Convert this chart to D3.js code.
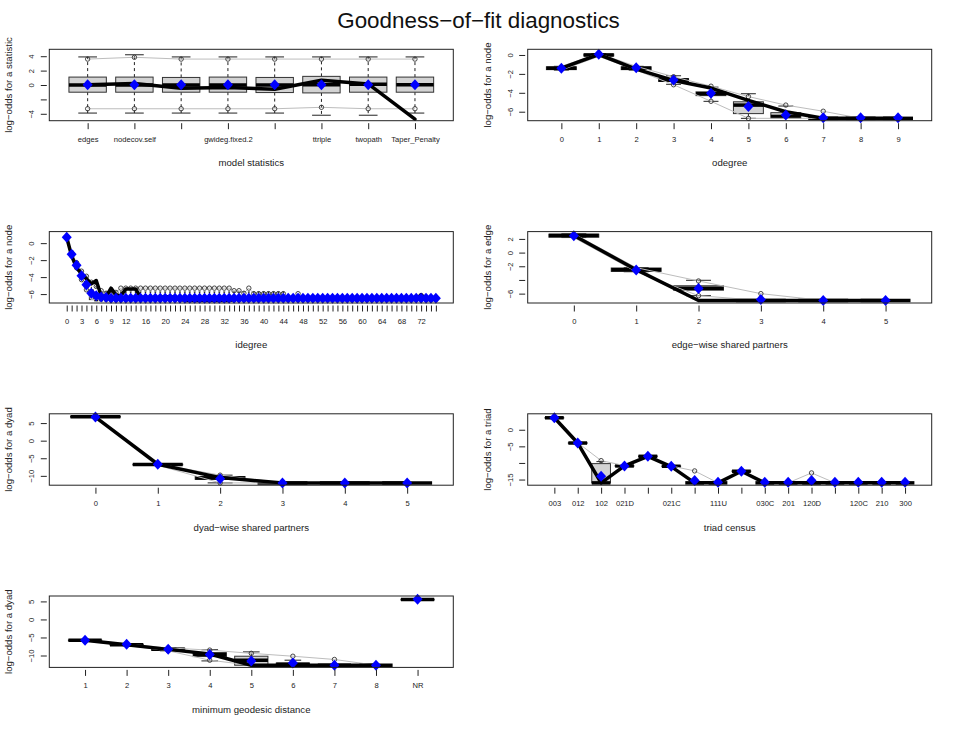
<!DOCTYPE html>
<html lang="en">
<head>
<meta charset="UTF-8">
<title>Goodness-of-fit diagnostics</title>
<script src="https://d3js.org/d3.v7.min.js"></script>
<style>
  body { margin: 0; background: #fff; font-family: "Liberation Sans", Arial, sans-serif; }
</style>
</head>
<body>
<div id="chart"></div>
<script>
// ---- data: boxes are [q1, median, q3, whiskerLow, whiskerHigh] ----

// model statistics
const modelLabels = ["edges", "nodecov.self", "", "gwideg.fixed.2", "", "ttriple", "twopath", "Taper_Penalty"];
const modelBoxes = [
  [-1.0, 0.0, 1.1, -3.9, 3.9], [-1.0, 0.0, 1.1, -3.9, 4.2], [-1.0, 0.0, 1.05, -3.9, 3.9], [-1.0, 0.0, 1.1, -3.9, 3.9],
  [-1.05, 0.0, 1.05, -3.9, 3.9], [-1.1, 0.05, 1.2, -4.2, 3.9], [-1.0, 0.1, 1.1, -4.2, 3.9], [-1.0, 0.05, 1.1, -3.9, 3.9]
];
const modelObs = [0.05, 0.2, -0.45, -0.35, -0.6, 0.65, 0.15, -4.75];
const modelMean = [0.05, 0.05, 0.05, 0.05, 0.05, 0.05, 0.05, 0.05];
const modelHi = [3.6, 3.85, 3.6, 3.6, 3.6, 3.6, 3.6, 3.6];
const modelLo = [-3.3, -3.3, -3.3, -3.3, -3.3, -3.1, -3.3, -3.3];

// odegree
const odegLabels = ["0", "1", "2", "3", "4", "5", "6", "7", "8", "9"];
const odegBoxes = [
  [-1.55, -1.4, -1.25, -1.6, -1.2], [-0.1, 0.0, 0.1, -0.15, 0.15], [-1.55, -1.4, -1.25, -1.6, -1.2],
  [-2.8, -2.65, -2.5, -3.1, -2.2], [-4.3, -4.1, -3.9, -4.9, -3.4], [-6.2, -5.3, -4.95, -6.7, -4.1],
  [-6.7, -6.5, -6.1, -6.7, -5.4], [-6.7, -6.7, -6.7, -6.7, -6.7], [-6.7, -6.7, -6.7, -6.7, -6.7], [-6.7, -6.7, -6.7, -6.7, -6.7]
];
const odegObs = [-1.4, 0.05, -1.5, -2.7, -3.5, -4.8, -6.0, -6.7, -6.7, -6.7];
const odegMean = [-1.4, 0.07, -1.35, -2.65, -4.05, -5.45, -6.35, -6.65, -6.65, -6.65];
const odegHi = [-1.2, 0.15, -1.2, -2.3, -3.3, -4.4, -5.3, -5.95, -6.7, -6.7];
const odegLo = [-1.6, -0.15, -1.6, -3.15, -4.9, -6.7, -6.7, -6.7, -6.7, -6.7];

// idegree
const idegCats = [0, 1, 2, 3, 4, 5, 6, 7, 8, 9, 10, 11, 12, 13, 14, 15, 16, 17, 18, 19, 20, 21, 22, 23, 24, 25, 26, 27, 28, 29,
  30, 31, 32, 33, 34, 35, 36, 37, 38, 39, 40, 41, 42, 43, 44, 45, 46, 47, 48, 49, 50, 51, 52, 53, 54, 55, 56, 57, 58, 59,
  60, 61, 62, 63, 64, 65, 66, 67, 68, 69, 70, 71, 72, 73, 74, 75];
const idegShown = [0, 3, 6, 9, 12, 16, 20, 24, 28, 32, 36, 40, 44, 48, 52, 56, 60, 64, 68, 72];
const idegBoxes = [
  [0.6, 0.7, 0.75, 0.55, 0.8], [-1.4, -1.3, -1.2, -1.5, -1.1], [-2.75, -2.6, -2.45, -2.9, -2.3], [-4.1, -3.85, -3.6, -4.3, -3.3],
  [-5.2, -4.9, -4.5, -5.5, -3.9], [-6.65, -6.0, -5.5, -6.65, -4.6], [-6.65, -6.65, -6.0, -6.65, -5.1],
  [-6.65, -6.65, -6.65, -6.65, -5.75], [-6.65, -6.65, -6.65, -6.65, -5.75], [-6.65, -6.65, -6.65, -6.65, -5.75],
  [-6.65, -6.65, -6.65, -6.65, -5.75], [-6.65, -6.65, -6.65, -6.65, -5.75], [-6.65, -6.65, -6.65, -6.65, -5.75],
  [-6.65, -6.65, -6.65, -6.65, -5.75], [-6.65, -6.65, -6.65, -6.65, -5.75], [-6.65, -6.65, -6.65, -6.65, -5.75],
  [-6.65, -6.65, -6.65, -6.65, -5.75], [-6.65, -6.65, -6.65, -6.65, -5.75], [-6.65, -6.65, -6.65, -6.65, -5.75],
  [-6.65, -6.65, -6.65, -6.65, -5.75], [-6.65, -6.65, -6.65, -6.65, -5.75], [-6.65, -6.65, -6.65, -6.65, -5.75],
  [-6.65, -6.65, -6.65, -6.65, -5.75], [-6.65, -6.65, -6.65, -6.65, -5.75], [-6.65, -6.65, -6.65, -6.65, -5.75],
  [-6.65, -6.65, -6.65, -6.65, -5.75], [-6.65, -6.65, -6.65, -6.65, -5.75], [-6.65, -6.65, -6.65, -6.65, -5.75],
  [-6.65, -6.65, -6.65, -6.65, -5.75], [-6.65, -6.65, -6.65, -6.65, -5.75], [-6.65, -6.65, -6.65, -6.65, -5.75],
  [-6.65, -6.65, -6.65, -6.65, -5.75], [-6.65, -6.65, -6.65, -6.65, -5.75], [-6.65, -6.65, -6.65, -6.65, -5.75],
  [-6.65, -6.65, -6.65, -6.65, -5.75], [-6.65, -6.65, -6.65, -6.65, -5.75], [-6.65, -6.65, -6.65, -6.65, -5.75],
  [-6.65, -6.65, -6.65, -6.65, -5.75], [-6.65, -6.65, -6.65, -6.65, -5.75], [-6.65, -6.65, -6.65, -6.65, -5.75],
  [-6.65, -6.65, -6.65, -6.65, -5.75], [-6.65, -6.65, -6.65, -6.65, -5.75], [-6.65, -6.65, -6.65, -6.65, -5.75],
  [-6.65, -6.65, -6.65, -6.65, -5.75], [-6.65, -6.65, -6.65, -6.65, -5.75], [-6.65, -6.65, -6.65, -6.65, -6.65],
  [-6.65, -6.65, -6.65, -6.65, -6.65], [-6.65, -6.65, -6.65, -6.65, -6.65], [-6.65, -6.65, -6.65, -6.65, -6.65],
  [-6.65, -6.65, -6.65, -6.65, -6.65], [-6.65, -6.65, -6.65, -6.65, -6.65], [-6.65, -6.65, -6.65, -6.65, -6.65],
  [-6.65, -6.65, -6.65, -6.65, -6.65], [-6.65, -6.65, -6.65, -6.65, -6.65], [-6.65, -6.65, -6.65, -6.65, -6.65],
  [-6.65, -6.65, -6.65, -6.65, -6.65], [-6.65, -6.65, -6.65, -6.65, -6.65], [-6.65, -6.65, -6.65, -6.65, -6.65],
  [-6.65, -6.65, -6.65, -6.65, -6.65], [-6.65, -6.65, -6.65, -6.65, -6.65], [-6.65, -6.65, -6.65, -6.65, -6.65],
  [-6.65, -6.65, -6.65, -6.65, -6.65], [-6.65, -6.65, -6.65, -6.65, -6.65], [-6.65, -6.65, -6.65, -6.65, -6.65],
  [-6.65, -6.65, -6.65, -6.65, -6.65], [-6.65, -6.65, -6.65, -6.65, -6.65], [-6.65, -6.65, -6.65, -6.65, -6.65],
  [-6.65, -6.65, -6.65, -6.65, -6.65], [-6.65, -6.65, -6.65, -6.65, -6.65], [-6.65, -6.65, -6.65, -6.65, -6.65],
  [-6.65, -6.65, -6.65, -6.65, -6.65], [-6.65, -6.65, -6.65, -6.65, -6.65], [-6.65, -6.65, -6.65, -6.65, -6.65],
  [-6.65, -6.65, -6.65, -6.65, -6.65], [-6.65, -6.65, -6.65, -6.65, -6.65], [-6.65, -6.65, -6.65, -6.65, -6.65]
];
const idegObs = [0.66, -1.5, -2.9, -3.6, -4.2, -4.8, -4.4, -6.2, -6.3, -5.3, -6.1, -6.2, -5.4, -5.4, -5.4, -6.4,
  -6.4, -6.4, -6.5, -6.4, -6.3, -6.3, -6.4, -6.6, -6.75, -6.75, -6.75, -6.75, -6.75, -6.75, -6.75, -6.75, -6.75, -6.75,
  -6.65, -6.65, -6.65, -6.65, -6.65, -6.65, -6.65, -6.65, -6.65, -6.65, -6.65, -6.65, -6.65, -6.65, -6.65, -6.65,
  -6.65, -6.65, -6.65, -6.65, -6.65, -6.65, -6.65, -6.65, -6.65, -6.65, -6.65, -6.65, -6.65, -6.65, -6.65, -6.65,
  -6.65, -6.65, -6.65, -6.65, -6.65, -6.65, -6.05, -6.65, -6.65, -6.65];
const idegMean = [0.7, -1.3, -2.6, -3.85, -4.9, -5.9, -6.2, -6.35, -6.4, -6.5, -6.5, -6.5, -6.5, -6.5, -6.5, -6.5,
  -6.5, -6.5, -6.5, -6.5, -6.5, -6.5, -6.5, -6.5, -6.5, -6.5, -6.5, -6.5, -6.5, -6.5, -6.5, -6.5, -6.5, -6.5,
  -6.5, -6.5, -6.5, -6.5, -6.5, -6.5, -6.5, -6.5, -6.5, -6.5, -6.5, -6.5, -6.5, -6.5, -6.5, -6.5,
  -6.5, -6.5, -6.5, -6.5, -6.5, -6.5, -6.5, -6.5, -6.5, -6.5, -6.5, -6.5, -6.5, -6.5, -6.5, -6.5,
  -6.5, -6.5, -6.5, -6.5, -6.5, -6.5, -6.5, -6.5, -6.5, -6.5];
const idegHi = [0.8, -1.1, -2.3, -3.3, -3.9, -4.6, -5.1, -5.6, -5.9, -6.0, -5.8, -5.3, -5.3, -5.3, -5.3, -5.3,
  -5.3, -5.3, -5.3, -5.3, -5.3, -5.3, -5.3, -5.3, -5.3, -5.3, -5.3, -5.3, -5.3, -5.3, -5.3, -5.3, -5.3, -5.3,
  -5.6, -5.6, -5.9, -5.3, -5.95, -5.95, -5.95, -5.95, -5.95, -5.95, -5.95, -6.65, -6.65, -5.95, -6.65, -6.65,
  -6.65, -6.65, -6.65, -6.65, -6.65, -6.65, -6.65, -6.65, -6.65, -6.65, -6.65, -6.65, -6.65, -6.65, -6.65, -6.65,
  -6.65, -6.65, -6.65, -6.65, -6.65, -6.65, -6.65, -6.65, -6.65, -6.65];
const idegLo = [0.55, -1.5, -2.9, -4.3, -5.5, -6.65, -6.65, -6.65, -6.65, -6.65, -6.65, -6.65, -6.65, -6.65, -6.65, -6.65,
  -6.65, -6.65, -6.65, -6.65, -6.65, -6.65, -6.65, -6.65, -6.65, -6.65, -6.65, -6.65, -6.65, -6.65, -6.65, -6.65, -6.65, -6.65,
  -6.65, -6.65, -6.65, -6.65, -6.65, -6.65, -6.65, -6.65, -6.65, -6.65, -6.65, -6.65, -6.65, -6.65, -6.65, -6.65,
  -6.65, -6.65, -6.65, -6.65, -6.65, -6.65, -6.65, -6.65, -6.65, -6.65, -6.65, -6.65, -6.65, -6.65, -6.65, -6.65,
  -6.65, -6.65, -6.65, -6.65, -6.65, -6.65, -6.65, -6.65, -6.65, -6.65];

// edge-wise shared partners
const espLabels = ["0", "1", "2", "3", "4", "5"];
const espBoxes = [
  [2.25, 2.5, 2.7, 2.2, 2.75], [-2.75, -2.5, -2.25, -2.8, -2.2], [-5.5, -5.2, -4.85, -6.3, -4.05],
  [-7.0, -7.0, -7.0, -7.0, -7.0], [-7.0, -7.0, -7.0, -7.0, -7.0], [-7.0, -7.0, -7.0, -7.0, -7.0]
];
const espObs = [2.5, -2.5, -7.0, -7.0, -7.0, -7.0];
const espMean = [2.45, -2.55, -5.25, -6.85, -7.0, -7.0];
const espHi = [2.75, -2.2, -4.15, -6.0, -7.0, -7.0];
const espLo = [2.2, -2.8, -6.3, -7.0, -7.0, -7.0];

// dyad-wise shared partners
const dspLabels = ["0", "1", "2", "3", "4", "5"];
const dspBoxes = [
  [6.7, 6.8, 6.9, 6.7, 6.9], [-6.9, -6.8, -6.7, -6.9, -6.7], [-11.0, -10.6, -10.2, -12.0, -9.8],
  [-12.0, -12.0, -12.0, -12.0, -12.0], [-12.0, -12.0, -12.0, -12.0, -12.0], [-12.0, -12.0, -12.0, -12.0, -12.0]
];
const dspObs = [6.7, -6.7, -10.5, -12.0, -12.0, -12.0];
const dspMean = [6.7, -6.7, -10.8, -12.0, -12.0, -12.0];
const dspHi = [6.9, -6.6, -9.8, -12.0, -12.0, -12.0];
const dspLo = [6.6, -7.0, -12.0, -12.0, -12.0, -12.0];

// triad census
const triadLabels = ["003", "012", "102", "021D", "", "021C", "", "111U", "", "030C", "201", "120D", "", "120C", "210", "300"];
const triadBoxes = [
  [3.5, 3.6, 3.7, 3.5, 3.7], [-4.1, -4.0, -3.9, -4.1, -3.9], [-16.0, -16.0, -10.2, -16.0, -9.6],
  [-11.0, -10.9, -10.8, -11.0, -10.8], [-8.1, -8.0, -7.9, -8.1, -7.9], [-11.1, -11.0, -10.9, -11.1, -10.9],
  [-16.0, -16.0, -16.0, -16.0, -16.0], [-16.0, -16.0, -16.0, -16.0, -16.0], [-12.6, -12.5, -12.4, -12.6, -12.4],
  [-16.0, -16.0, -16.0, -16.0, -16.0], [-16.0, -16.0, -16.0, -16.0, -16.0], [-16.0, -16.0, -16.0, -16.0, -16.0],
  [-16.0, -16.0, -16.0, -16.0, -16.0], [-16.0, -16.0, -16.0, -16.0, -16.0], [-16.0, -16.0, -16.0, -16.0, -16.0],
  [-16.0, -16.0, -16.0, -16.0, -16.0]
];
const triadObs = [3.6, -4.0, -16.0, -10.9, -8.0, -11.1, -16.0, -16.0, -12.5, -16.0, -16.0, -16.0, -16.0, -16.0, -16.0, -16.0];
const triadMean = [3.6, -4.0, -14.0, -10.9, -8.0, -11.0, -15.3, -15.8, -12.5, -15.8, -15.8, -15.3, -15.8, -15.8, -15.8, -15.8];
const triadHi = [3.7, -3.9, -9.3, -10.8, -7.9, -10.9, -12.4, -16.0, -12.4, -16.0, -16.0, -13.0, -16.0, -16.0, -16.0, -16.0];
const triadLo = [3.5, -4.1, -16.0, -11.0, -8.1, -11.1, -16.0, -16.0, -12.6, -16.0, -16.0, -16.0, -16.0, -16.0, -16.0, -16.0];

// minimum geodesic distance
const geoLabels = ["1", "2", "3", "4", "5", "6", "7", "8", "NR"];
const geoBoxes = [
  [-5.9, -5.8, -5.7, -6.0, -5.6], [-7.1, -7.0, -6.9, -7.2, -6.8], [-8.55, -8.3, -8.0, -8.7, -7.9],
  [-10.3, -9.7, -9.2, -11.5, -8.4], [-12.7, -11.3, -10.2, -12.7, -9.0], [-12.7, -12.4, -12.1, -12.7, -11.3],
  [-12.7, -12.7, -12.7, -12.7, -12.7], [-12.7, -12.7, -12.7, -12.7, -12.7], [5.4, 5.5, 5.6, 5.4, 5.6]
];
const geoObs = [-5.8, -7.0, -8.3, -9.6, -12.7, -12.7, -12.7, -12.7, 5.5];
const geoMean = [-5.8, -6.9, -8.3, -9.7, -11.5, -12.05, -12.7, -12.7, 5.6];
const geoHi = [-5.6, -6.8, -7.9, -8.5, -9.4, -10.2, -11.1, -12.7, 5.6];
const geoLo = [-6.0, -7.2, -8.7, -11.3, -12.7, -12.7, -12.7, -12.7, 5.4];

// ---- layout ----
const width = 957, height = 729;
const colX = [49.3, 527.7];
const rowY = [49.3, 231.6, 413.8, 596];
const plotW = 404, plotH = 71.4;
const tickFont = "7.6px", titleFont = "9.6px";

const svg = d3.select("#chart").append("svg")
  .attr("width", width)
  .attr("height", height)
  .style("font-family", "'Liberation Sans', Arial, sans-serif");

svg.append("text")
  .attr("x", 478.5)
  .attr("y", 28)
  .attr("text-anchor", "middle")
  .style("font-size", "22.4px")
  .attr("fill", "#111")
  .text("Goodness\u2212of\u2212fit diagnostics");

function fmt(v) {
  return v < 0 ? "\u2212" + Math.abs(v) : String(v);
}

function drawPanel(p) {
  const n = p.labels.length;
  const g = svg.append("g").attr("transform", `translate(${colX[p.col]},${rowY[p.row]})`);

  // R style: xlim [0.5, n + 0.5] extended by 4%
  const x = d3.scaleLinear().domain([0.5 - 0.04 * n, n + 0.5 + 0.04 * n]).range([0, plotW]);
  const y = d3.scaleLinear().domain(p.yDomain).range([plotH, 0]);
  const pos = i => x(i + 1);
  const half = x(0.4) - x(0);

  // boxes
  p.boxes.forEach((b, i) => {
    const [q1, med, q3, wlo, whi] = b;
    const cx = pos(i);
    if (whi > q3) {
      g.append("line").attr("x1", cx).attr("x2", cx).attr("y1", y(q3)).attr("y2", y(whi))
        .attr("stroke", "#222").attr("stroke-dasharray", "3,3");
      g.append("line").attr("x1", cx - half / 2).attr("x2", cx + half / 2).attr("y1", y(whi)).attr("y2", y(whi))
        .attr("stroke", "#222");
    }
    if (wlo < q1) {
      g.append("line").attr("x1", cx).attr("x2", cx).attr("y1", y(q1)).attr("y2", y(wlo))
        .attr("stroke", "#222").attr("stroke-dasharray", "3,3");
      g.append("line").attr("x1", cx - half / 2).attr("x2", cx + half / 2).attr("y1", y(wlo)).attr("y2", y(wlo))
        .attr("stroke", "#222");
    }
    g.append("rect")
      .attr("x", cx - half).attr("width", 2 * half)
      .attr("y", y(q3)).attr("height", Math.max(0, y(q1) - y(q3)))
      .attr("fill", "#d3d3d3").attr("stroke", "#333").attr("stroke-width", 1);
    g.append("line").attr("x1", cx - half).attr("x2", cx + half).attr("y1", y(med)).attr("y2", y(med))
      .attr("stroke", "#000").attr("stroke-width", 3.5);
  });

  const count = p.lineCount || n;
  const line = d3.line()
    .defined((d, i) => i < count)
    .x((d, i) => pos(i))
    .y(d => y(d));

  // simulation range lines
  [p.hi, p.lo].forEach(s => {
    g.append("path").datum(s).attr("d", line)
      .attr("fill", "none").attr("stroke", "#bdbdbd").attr("stroke-width", 1);
  });

  // quantile points outside the boxes
  p.hi.forEach((v, i) => {
    if (v > p.boxes[i][2] + 0.05) {
      g.append("circle").attr("cx", pos(i)).attr("cy", y(v)).attr("r", 2.2)
        .attr("fill", "none").attr("stroke", "#333").attr("stroke-width", 0.9);
    }
  });
  p.lo.forEach((v, i) => {
    if (v < p.boxes[i][0] - 0.05) {
      g.append("circle").attr("cx", pos(i)).attr("cy", y(v)).attr("r", 2.2)
        .attr("fill", "none").attr("stroke", "#333").attr("stroke-width", 0.9);
    }
  });

  // observed
  g.append("path").datum(p.obs).attr("d", line)
    .attr("fill", "none").attr("stroke", "#000").attr("stroke-width", 3.5)
    .attr("stroke-linejoin", "round").attr("stroke-linecap", "round");

  // simulated mean
  g.selectAll(".mean").data(p.mean).enter().append("path")
    .attr("class", "mean")
    .attr("transform", (d, i) => `translate(${pos(i)},${y(d)})`)
    .attr("d", "M0,-5.5L5,0L0,5.5L-5,0Z")
    .attr("fill", "#0000ff");

  // frame
  g.append("rect").attr("width", plotW).attr("height", plotH)
    .attr("fill", "none").attr("stroke", "#222").attr("stroke-width", 1);

  // x axis
  const xAxis = d3.axisBottom(x)
    .tickValues(d3.range(1, n + 1))
    .tickFormat(i => p.labels[i - 1])
    .tickSize(6)
    .tickSizeOuter(0);
  const gx = g.append("g").attr("transform", `translate(0,${plotH + 2.5})`).call(xAxis);
  gx.select(".domain").remove();
  gx.selectAll("line").attr("stroke", "#222");
  gx.selectAll("text").attr("y", 18.5).attr("dy", 0)
    .style("font-size", tickFont).attr("fill", "#222")
    .style("font-family", "'Liberation Sans', Arial, sans-serif");

  // y axis
  const yAxis = d3.axisLeft(y)
    .tickValues(p.yTicks)
    .tickFormat(v => p.yShown.includes(v) ? fmt(v) : "")
    .tickSize(6)
    .tickSizeOuter(0);
  const gy = g.append("g").attr("transform", "translate(-2.5,0)").call(yAxis);
  gy.select(".domain").remove();
  gy.selectAll("line").attr("stroke", "#222");
  gy.selectAll("text")
    .attr("transform", "rotate(-90)")
    .attr("x", 0).attr("y", -12.5).attr("dy", 0)
    .attr("text-anchor", "middle")
    .style("font-size", tickFont).attr("fill", "#222")
    .style("font-family", "'Liberation Sans', Arial, sans-serif");

  // titles
  g.append("text")
    .attr("x", plotW / 2).attr("y", plotH + 45.5)
    .attr("text-anchor", "middle")
    .style("font-size", titleFont).attr("fill", "#222")
    .text(p.xlab);
  g.append("text")
    .attr("transform", `translate(-37,${plotH / 2}) rotate(-90)`)
    .attr("text-anchor", "middle")
    .style("font-size", titleFont).attr("fill", "#222")
    .text(p.ylab);
}

drawPanel({
  col: 0, row: 0, labels: modelLabels, boxes: modelBoxes, obs: modelObs, mean: modelMean, hi: modelHi, lo: modelLo,
  yDomain: [-4.96, 4.96], yTicks: [-4, -2, 0, 2, 4], yShown: [-4, 0, 2, 4],
  xlab: "model statistics", ylab: "log\u2212odds for a statistic"
});
drawPanel({
  col: 1, row: 0, labels: odegLabels, boxes: odegBoxes, obs: odegObs, mean: odegMean, hi: odegHi, lo: odegLo,
  yDomain: [-6.95, 0.6], yTicks: [-6, -4, -2, 0], yShown: [-6, -4, -2, 0],
  xlab: "odegree", ylab: "log\u2212odds for a node"
});
drawPanel({
  col: 0, row: 1, labels: idegCats.map(c => idegShown.includes(c) ? String(c) : ""),
  boxes: idegBoxes, obs: idegObs, mean: idegMean, hi: idegHi, lo: idegLo,
  yDomain: [-7.05, 1.36], yTicks: [-6, -4, -2, 0], yShown: [-6, -4, -2, 0],
  xlab: "idegree", ylab: "log\u2212odds for a node"
});
drawPanel({
  col: 1, row: 1, labels: espLabels, boxes: espBoxes, obs: espObs, mean: espMean, hi: espHi, lo: espLo,
  yDomain: [-7.37, 3.07], yTicks: [-6, -4, -2, 0, 2], yShown: [-6, -2, 0, 2],
  xlab: "edge\u2212wise shared partners", ylab: "log\u2212odds for a edge"
});
drawPanel({
  col: 0, row: 2, labels: dspLabels, boxes: dspBoxes, obs: dspObs, mean: dspMean, hi: dspHi, lo: dspLo,
  yDomain: [-12.66, 7.64], yTicks: [-10, -5, 0, 5], yShown: [-10, -5, 0, 5],
  xlab: "dyad\u2212wise shared partners", ylab: "log\u2212odds for a dyad"
});
drawPanel({
  col: 1, row: 2, labels: triadLabels, boxes: triadBoxes, obs: triadObs, mean: triadMean, hi: triadHi, lo: triadLo,
  yDomain: [-16.7, 4.8], yTicks: [-15, -10, -5, 0], yShown: [-15, -5, 0],
  xlab: "triad census", ylab: "log\u2212odds for a triad"
});
drawPanel({
  col: 0, row: 3, labels: geoLabels, boxes: geoBoxes, obs: geoObs, mean: geoMean, hi: geoHi, lo: geoLo,
  lineCount: 8,
  yDomain: [-13.3, 6.5], yTicks: [-10, -5, 0, 5], yShown: [-10, -5, 0, 5],
  xlab: "minimum geodesic distance", ylab: "log\u2212odds for a dyad"
});
</script>
</body>
</html>
